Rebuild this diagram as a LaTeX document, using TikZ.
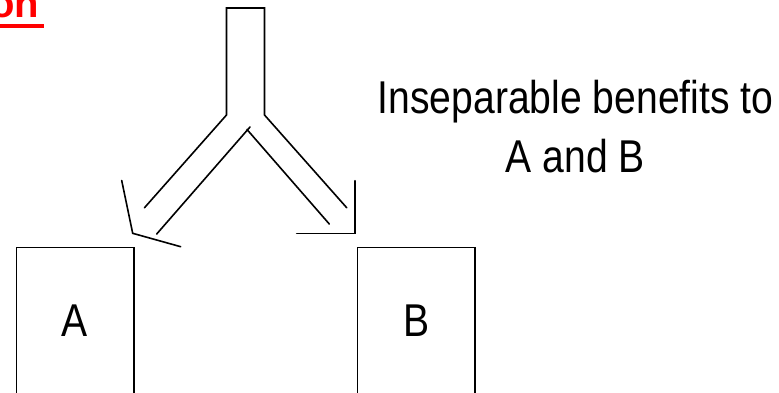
\documentclass[tikz,border=0pt]{standalone}
\usepackage{fontspec}
\setmainfont[FakeStretch=0.85]{Liberation Sans}
\newfontfamily\titlefont{Liberation Sans}
\begin{document}
\begin{tikzpicture}[x=1pt,y=-1pt,
  blockline/.style={line width=1.6pt, line cap=round, line join=miter},
  boxstyle/.style={draw, line width=1.2pt, rectangle, inner sep=0pt, minimum width=117.5pt, minimum height=180pt},
  letterstyle/.style={inner sep=0pt, font=\fontsize{46}{55}\selectfont},
  notestyle/.style={inner sep=0pt, align=center, font=\fontsize{46}{59}\selectfont},
  titlestyle/.style={inner sep=0pt, text=red, font=\titlefont\bfseries\fontsize{40}{48}\selectfont}]
\useasboundingbox (0,0) rectangle (779,392);
\clip (0,0) rectangle (779,392);

% title (cut off at the top)
\node[titlestyle, anchor=base east] (title) at (39.6,17) {on};
\coordinate (ulA) at (-5,26);
\coordinate (ulB) at (44,26);
\draw[red, line width=4pt] (ulA) -- (ulB);

% boxes
\node[boxstyle] (boxA) at (75.25,337.5) {};
\node[boxstyle] (boxB) at (416.25,337.5) {};
\node[letterstyle] (labA) at (75,321) {A};
\node[letterstyle] (labB) at (416.5,321) {B};

% note
\node[notestyle, anchor=north] (note) at (575.5,79.5) {Inseparable benefits to\\A and B};

% forked block arrow
\coordinate (sL) at (226.5,115);
\coordinate (sR) at (264.5,115);
\coordinate (sTL) at (226.5,8);
\coordinate (sTR) at (264.5,8);
\coordinate (oL) at (144.5,207.7);
\coordinate (oR) at (346.7,207.7);
\coordinate (iLs) at (250,127);
\coordinate (iLe) at (156.7,234);
\coordinate (iRs) at (247,129.5);
\coordinate (iRe) at (329.3,224);
\coordinate (hLa) at (121.7,180.5);
\coordinate (hLc) at (132.7,233.3);
\coordinate (hLb) at (180.7,246.7);
\coordinate (hRa) at (355,180.7);
\coordinate (hRc) at (355,233.3);
\coordinate (hRb) at (296.7,233.3);

\draw[blockline] (oL) -- (sL) -- (sTL) -- (sTR) -- (sR) -- (oR);
\draw[blockline] (iLs) -- (iLe);
\draw[blockline] (iRs) -- (iRe);
\draw[blockline] (hLa) -- (hLc) -- (hLb);
\draw[blockline] (hRa) -- (hRc) -- (hRb);
\end{tikzpicture}
\end{document}
